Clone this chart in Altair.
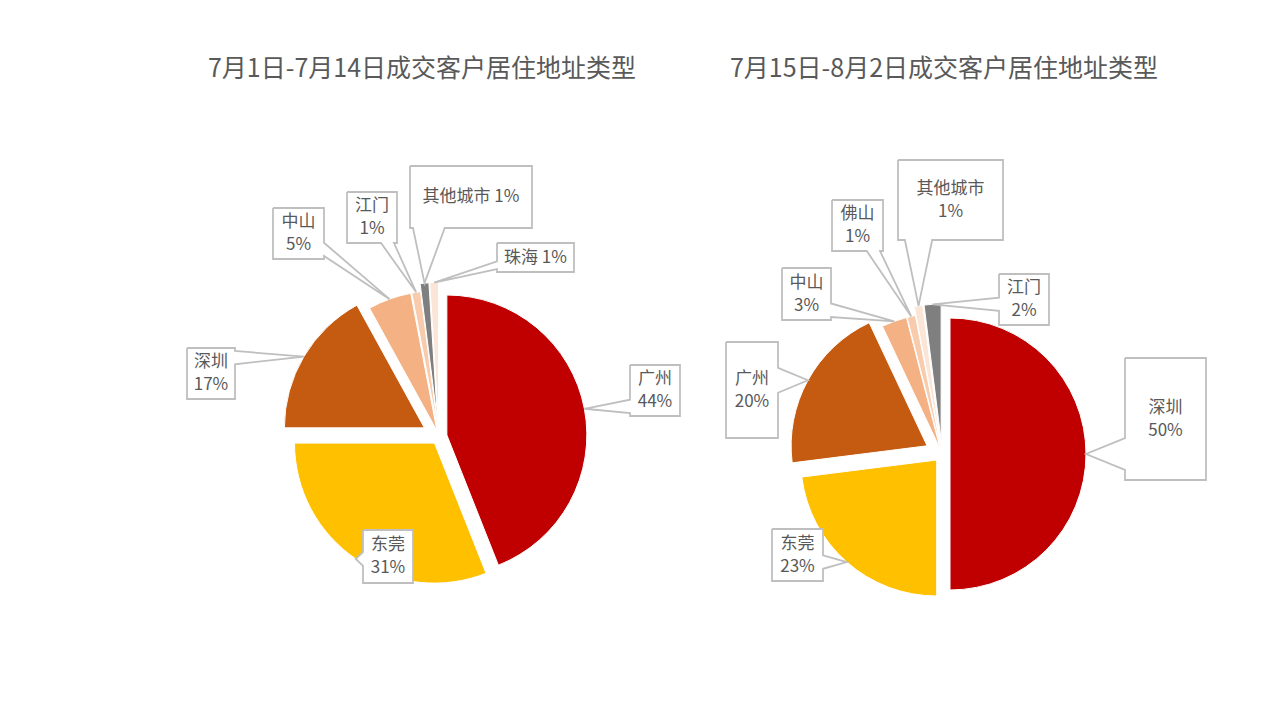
import math
import altair as alt
import pandas as pd

# ---------------- data ----------------
LEFT_TITLE = "7月1日-7月14日成交客户居住地址类型"
LEFT_CITIES = ["广州", "东莞", "深圳", "中山", "江门", "其他城市", "珠海"]
LEFT_SHARES = [44, 31, 17, 5, 1, 1, 1]

RIGHT_TITLE = "7月15日-8月2日成交客户居住地址类型"
RIGHT_CITIES = ["深圳", "东莞", "广州", "中山", "佛山", "其他城市", "江门"]
RIGHT_SHARES = [50, 23, 20, 3, 1, 1, 2]

# ---------------- style / layout ----------------
LEFT_COLORS = ["#C00000", "#FFC000", "#C55A11", "#F4B183", "#F8CBAD", "#7F7F7F", "#FBE5D6"]
RIGHT_COLORS = ["#C00000", "#FFC000", "#C55A11", "#F4B183", "#F8CBAD", "#FBE5D6", "#7F7F7F"]
LEFT_EXPLODE = [8, 8, 17, 6, 6, 14, 14]
RIGHT_EXPLODE = [8, 8, 17, 5, 5, 14, 14]

LEFT_PIE = dict(cx=439, cy=436.5, r=140, tx=422)
RIGHT_PIE = dict(cx=942, cy=454, r=136, tx=944)
TITLE_Y = 69

# callout boxes (x0, y0, x1, y1) in page pixels, and single-line flags
LEFT_BOXES = [(630, 365, 680, 416), (363, 530, 413, 583), (187, 348, 235, 399),
              (273, 208, 324, 259), (347, 192, 397, 243), (410, 166, 532, 228),
              (497, 243, 574, 272)]
LEFT_ONE_LINE = [False, False, False, False, False, True, True]
RIGHT_BOXES = [(1125, 358, 1206, 480), (772, 529, 823, 581), (726, 342, 778, 438),
               (782, 268, 831, 320), (832, 200, 883, 251), (898, 160, 1003, 240),
               (999, 274, 1049, 325)]
RIGHT_ONE_LINE = [False] * 7

W, H = 1250, 680
FONT = "Noto Sans CJK SC"
TEXT_COLOR = "#595959"
BOX_COLOR = "#BFBFBF"
LABEL_SIZE = 17
LINE_H = 23

# ---------------- tables built from the arrays ----------------
slices, polys, labels = [], [], []


def callout(box, ax, ay):
    x0, y0, x1, y1 = box
    dxo = max(x0 - ax, ax - x1, 0)
    dyo = max(y0 - ay, ay - y1, 0)
    if dxo >= dyo:
        side = "left" if ax < x0 else "right"
    else:
        side = "top" if ay < y0 else "bottom"
    pts_top, pts_right, pts_bottom, pts_left = [], [], [], []
    if side in ("top", "bottom"):
        w = 0.13 * (x1 - x0)
        c = min(max(ax, x0 + w + 3), x1 - w - 3)
        if side == "top":
            pts_top = [(c - w, y0), (ax, ay), (c + w, y0)]
        else:
            pts_bottom = [(c + w, y1), (ax, ay), (c - w, y1)]
    else:
        w = 0.13 * (y1 - y0)
        c = min(max(ay, y0 + w + 3), y1 - w - 3)
        if side == "right":
            pts_right = [(x1, c - w), (ax, ay), (x1, c + w)]
        else:
            pts_left = [(x0, c + w), (ax, ay), (x0, c - w)]
    pts = [(x0, y0)] + pts_top + [(x1, y0)] + pts_right + [(x1, y1)] + pts_bottom + \
          [(x0, y1)] + pts_left + [(x0, y0)]
    return pts


for pname, cities, shares, colors, explode, pie, boxes, one in [
    ("L", LEFT_CITIES, LEFT_SHARES, LEFT_COLORS, LEFT_EXPLODE, LEFT_PIE, LEFT_BOXES, LEFT_ONE_LINE),
    ("R", RIGHT_CITIES, RIGHT_SHARES, RIGHT_COLORS, RIGHT_EXPLODE, RIGHT_PIE, RIGHT_BOXES, RIGHT_ONE_LINE),
]:
    total = float(sum(shares))
    cum = 0.0
    for i, (city, v) in enumerate(zip(cities, shares)):
        t0 = cum / total * 100
        cum += v
        t1 = cum / total * 100
        slices.append(dict(pie=pname, city=city, share=v, t0=t0, t1=t1,
                           cx=pie["cx"], cy=pie["cy"], r=pie["r"], d=explode[i],
                           fill=colors[i]))
        a = math.pi * (t0 + t1) / 100.0
        rr = pie["r"] + explode[i]
        ax = pie["cx"] + rr * math.sin(a)
        ay = pie["cy"] - rr * math.cos(a)
        lid = f"{pname}{i}"
        for k, (px, py) in enumerate(callout(boxes[i], ax, ay)):
            polys.append(dict(lid=lid, k=k, px=px, py=py))
        x0, y0, x1, y1 = boxes[i]
        if one[i]:
            txt, ty = f"{city} {v}%", (y0 + y1) / 2
        else:
            txt, ty = f"{city}\n{v}%", (y0 + y1) / 2 - LINE_H / 2
        labels.append(dict(lid=lid, tx=(x0 + x1) / 2, ty=ty, text=txt))

titles = pd.DataFrame([
    dict(tx=LEFT_PIE["tx"], ty=TITLE_Y, text=LEFT_TITLE),
    dict(tx=RIGHT_PIE["tx"], ty=TITLE_Y, text=RIGHT_TITLE),
])

xs = alt.Scale(domain=[8, 8 + W], range=[0, W])
ys = alt.Scale(domain=[8, 8 + H], reverse=True)

arcs = alt.Chart(pd.DataFrame(slices)).transform_calculate(
    sx="datum.cx + datum.d * sin(PI * (datum.t0 + datum.t1) / 100)",
    sy="datum.cy - datum.d * cos(PI * (datum.t0 + datum.t1) / 100)",
).mark_arc(stroke="white", strokeWidth=1).encode(
    x=alt.X("sx:Q", scale=xs, axis=None),
    y=alt.Y("sy:Q", scale=ys, axis=None),
    theta=alt.Theta("t0:Q", scale=alt.Scale(domain=[0, 100]), stack=None),
    theta2="t1:Q",
    radius=alt.Radius("r:Q", scale=None),
    color=alt.Color("fill:N", scale=None),
)

boxes_layer = alt.Chart(pd.DataFrame(polys)).mark_line(
    fill="white", stroke=BOX_COLOR, strokeWidth=1.8, strokeJoin="miter"
).encode(
    x=alt.X("px:Q", scale=xs, axis=None),
    y=alt.Y("py:Q", scale=ys, axis=None),
    detail="lid:N",
    order="k:Q",
)

text_layer = alt.Chart(pd.DataFrame(labels)).mark_text(
    font=FONT, fontSize=LABEL_SIZE, color=TEXT_COLOR, lineBreak="\n", lineHeight=LINE_H,
    align="center", baseline="middle",
).encode(
    x=alt.X("tx:Q", scale=xs, axis=None),
    y=alt.Y("ty:Q", scale=ys, axis=None),
    text="text:N",
)

title_layer = alt.Chart(titles).mark_text(
    font=FONT, fontSize=25, color=TEXT_COLOR, align="center", baseline="middle",
).encode(
    x=alt.X("tx:Q", scale=xs, axis=None),
    y=alt.Y("ty:Q", scale=ys, axis=None),
    text="text:N",
)

chart = alt.layer(arcs, boxes_layer, text_layer, title_layer).properties(
    width=W, height=H, padding=0, autosize="none", background="white",
).configure_view(stroke=None)

chart.save("out.html", embed_options={"renderer": "svg", "actions": False})
